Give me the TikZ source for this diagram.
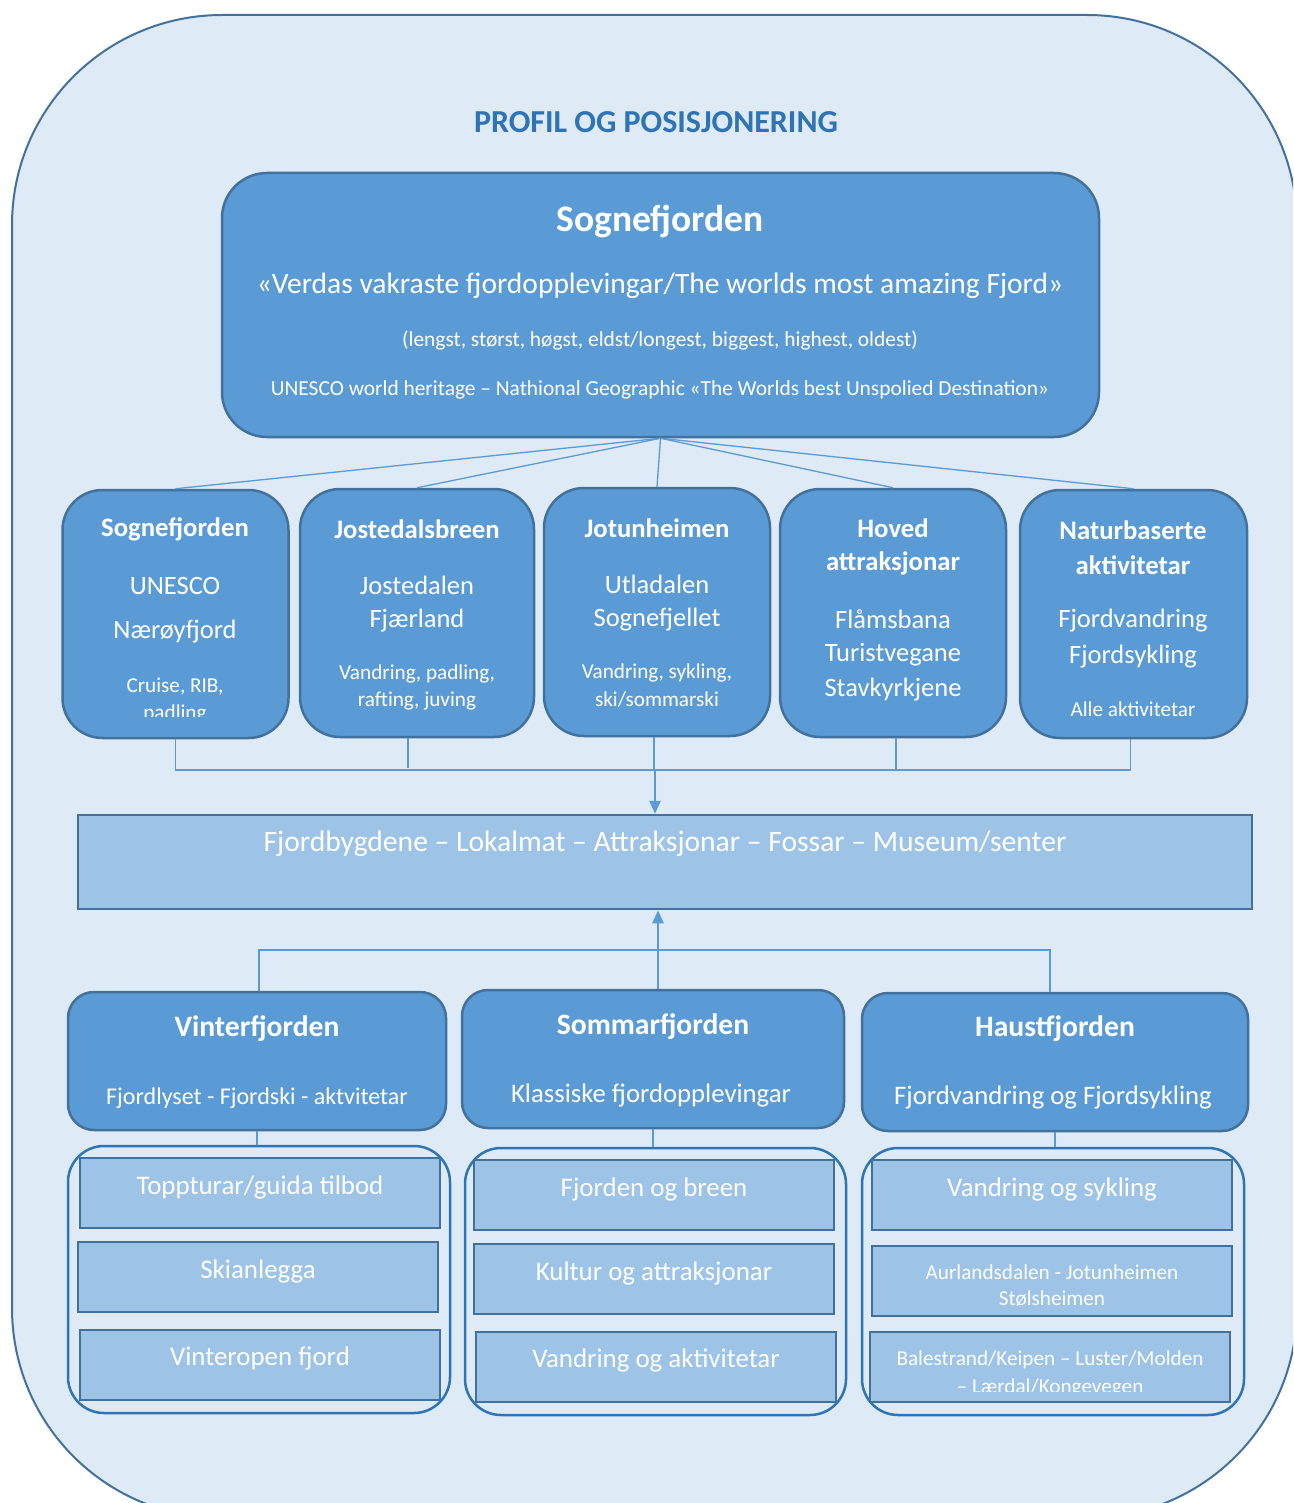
\documentclass[tikz,border=0pt]{standalone}
\usepackage{fontspec}
\setmainfont{Carlito}
\usetikzlibrary{arrows.meta}

\definecolor{bgblue}{HTML}{DEEAF6}
\definecolor{edgeblue}{HTML}{41719C}
\definecolor{boxblue}{HTML}{5B9BD5}
\definecolor{paleblue}{HTML}{9DC3E6}
\definecolor{titleblue}{HTML}{2E74B5}
\definecolor{ringblue}{HTML}{2E75B6}

\newcommand{\fsz}[1]{\fontsize{#1}{#1}\selectfont}

\tikzset{
  link/.style={draw=boxblue, line width=1.3pt},
  flow/.style={draw=boxblue, line width=2.5pt, -{Triangle[length=13pt,width=11pt]}},
  txt/.style={text=white, inner sep=0pt, align=center},
  headbox/.style={draw=edgeblue, fill=boxblue, line width=2.5pt, rounded corners=45pt},
  topicbox/.style={draw=edgeblue, fill=boxblue, line width=2.5pt, rounded corners=40pt,
    minimum width=226pt, minimum height=248pt, inner sep=0pt},
  seasonbox/.style={draw=edgeblue, fill=boxblue, line width=2.5pt, rounded corners=26pt,
    minimum height=138pt, inner sep=0pt},
  ring/.style={draw=ringblue, line width=2.5pt, rounded corners=36pt,
    minimum width=382pt, minimum height=267pt, inner sep=0pt},
  offer/.style={draw=edgeblue, fill=paleblue, line width=2.5pt,
    minimum width=360pt, minimum height=70pt, inner sep=0pt},
}

\begin{document}
\begin{tikzpicture}[x=1pt,y=-1pt]
  \useasboundingbox (0,0) rectangle (1293,1503);
  \clip (0,0) rectangle (1293,1503);
  % background frame
  \draw[fill=bgblue, draw=edgeblue, line width=2pt, rounded corners=210pt]
    (12,15) rectangle (1297,1518);

  \node[text=titleblue, inner sep=0pt] (title) at (656,122)
    {\fsz{32}\bfseries PROFIL OG POSISJONERING};

  % main box
  \node[headbox, minimum width=877pt, minimum height=264pt] (top) at (660.5,305) {};
  \node[txt] (t0) at (660,221) {\fsz{37.5}\bfseries Sognefjorden};
  \node[txt] (t1) at (660,286) {\fsz{29.5}«Verdas vakraste fjordopplevingar/The worlds most amazing Fjord»};
  \node[txt] (t2) at (660,341) {\fsz{21.4}(lengst, størst, høgst, eldst/longest, biggest, highest, oldest)};
  \node[txt] (t3) at (660,390) {\fsz{21.4}UNESCO world heritage – Nathional Geographic «The Worlds best Unspolied Destination»};

  % five themes
  \node[topicbox] (b1) at (175.5,614) {};
  \node[topicbox, minimum width=234pt] (b2) at (417,613) {};
  \node[topicbox] (b3) at (657,612) {};
  \node[topicbox] (b4) at (893,613) {};
  \node[topicbox, minimum width=227pt] (b5) at (1133.5,614) {};

  \node[txt] (b1a) at (175,529) {\fsz{26.7}\bfseries Sognefjorden};
  \node[txt] (b1b) at (175,586) {\fsz{26.5}UNESCO};
  \node[txt] (b1c) at (175,632) {\fsz{26.5}Nærøyfjord};
  \node[txt, anchor=base] (b1d) at (175,692) {\fsz{21.2}Cruise, RIB,};
  \begin{scope}
    \clip (70,698) rectangle (280,716);
    \node[txt, anchor=base] (b1e) at (175,719) {\fsz{21.2}padling};
  \end{scope}

  \node[txt] (b2a) at (417,529) {\fsz{26.7}\bfseries Jostedalsbreen};
  \node[txt] (b2b) at (417,585) {\fsz{26.5}Jostedalen};
  \node[txt] (b2c) at (417,621) {\fsz{26.5}Fjærland};
  \node[txt] (b2d) at (417,674) {\fsz{21.2}Vandring, padling,};
  \node[txt] (b2e) at (417,701) {\fsz{21.2}rafting, juving};

  \node[txt] (b3a) at (657,528) {\fsz{26.7}\bfseries Jotunheimen};
  \node[txt] (b3b) at (657,584) {\fsz{26.5}Utladalen};
  \node[txt] (b3c) at (657,620) {\fsz{26.5}Sognefjellet};
  \node[txt] (b3d) at (657,673) {\fsz{21.2}Vandring, sykling,};
  \node[txt] (b3e) at (657,700) {\fsz{21.2}ski/sommarski};

  \node[txt] (b4a) at (893,528) {\fsz{26.7}\bfseries Hoved};
  \node[txt] (b4b) at (893,563) {\fsz{26.7}\bfseries attraksjonar};
  \node[txt] (b4c) at (893,619) {\fsz{26.5}Flåmsbana};
  \node[txt] (b4d) at (893,655) {\fsz{26.5}Turistvegane};
  \node[txt] (b4e) at (893,690) {\fsz{26.5}Stavkyrkjene};

  \node[txt] (b5a) at (1133,530) {\fsz{26.7}\bfseries Naturbaserte};
  \node[txt] (b5b) at (1133,565) {\fsz{26.7}\bfseries aktivitetar};
  \node[txt] (b5c) at (1133,621) {\fsz{26.5}Fjordvandring};
  \node[txt] (b5d) at (1133,657) {\fsz{26.5}Fjordsykling};
  \node[txt] (b5e) at (1133,709) {\fsz{21.2}Alle aktivitetar};

  \foreach \b in {b1,b2,b3,b4,b5}
    \draw[link] (top.south) -- (\b.north);

  % common layer
  \node[draw=edgeblue, fill=paleblue, line width=2.5pt, minimum width=1174pt,
    minimum height=94pt, inner sep=0pt] (hub) at (665,862) {};
  \node[txt] (hubt) at (665,844) {\fsz{29.6}Fjordbygdene – Lokalmat – Attraksjonar – Fossar – Museum/senter};

  \coordinate (join) at (655,770);
  \draw[link] (b1.south) |- (join) -| ([xshift=-3pt]b5.south);
  \draw[link] ([xshift=-9pt]b2.south) -- ++(0,30);
  \draw[link] ([xshift=-3pt]b3.south) -- ++(0,32);
  \draw[link] ([xshift=3pt]b4.south) -- ++(0,33);
  \draw[flow] (join) -- (join |- hub.north);

  % seasons
  \node[seasonbox, minimum width=378pt] (s1) at (257,1061) {};
  \node[seasonbox, minimum width=382pt] (s2) at (653,1059) {};
  \node[seasonbox, minimum width=386pt] (s3) at (1055,1062) {};
  \node[txt] (s1a) at (257,1029) {\fsz{29.6}\bfseries Vinterfjorden};
  \node[txt] (s1b) at (257,1098) {\fsz{24}Fjordlyset - Fjordski - aktvitetar};
  \node[txt] (s2a) at (653,1027) {\fsz{29.6}\bfseries Sommarfjorden};
  \node[txt] (s2b) at (651,1096) {\fsz{26.7}Klassiske fjordopplevingar};
  \node[txt] (s3a) at (1055,1029) {\fsz{29.6}\bfseries Haustfjorden};
  \node[txt] (s3b) at (1053,1098) {\fsz{26.7}Fjordvandring og Fjordsykling};

  \coordinate (split) at (658,950);
  \draw[link] ([xshift=2pt]s1.north) |- (split) -| ([xshift=-5pt]s3.north);
  \draw[link] (s2.north -| split) -- (split);
  \draw[flow] (split) -- (split |- hub.south);

  % offers
  \node[ring] (g1) at (259,1279.5) {};
  \node[ring, minimum width=381pt] (g2) at (655.5,1281.5) {};
  \node[ring] (g3) at (1053,1281.5) {};
  \foreach \s/\g in {s1/g1,s2/g2,s3/g3}
    \draw[link] (\s.south) -- (\s.south |- \g.north);

  \node[offer] (r11) at (260,1193) {};
  \node[offer] (r12) at (258,1277) {};
  \node[offer] (r13) at (260,1365) {};
  \node[offer] (r21) at (654,1195) {};
  \node[offer] (r22) at (654,1279) {};
  \node[offer] (r23) at (656,1367) {};
  \node[offer] (r31) at (1052,1195) {};
  \node[offer] (r32) at (1052,1281) {};
  \node[offer] (r33) at (1050,1367) {};

  \node[txt] (r11t) at (260,1187) {\fsz{26.9}Toppturar/guida tilbod};
  \node[txt] (r12t) at (258,1271) {\fsz{26.9}Skianlegga};
  \node[txt] (r13t) at (260,1358) {\fsz{26.9}Vinteropen fjord};
  \node[txt] (r21t) at (654,1189) {\fsz{26.9}Fjorden og breen};
  \node[txt] (r22t) at (654,1273) {\fsz{26.9}Kultur og attraksjonar};
  \node[txt] (r23t) at (656,1360) {\fsz{26.9}Vandring og aktivitetar};
  \node[txt] (r31t) at (1052,1189) {\fsz{26.9}Vandring og sykling};
  \node[txt] (r32a) at (1052,1272) {\fsz{21.2}Aurlandsdalen - Jotunheimen};
  \node[txt] (r32b) at (1052,1299) {\fsz{21.2}Stølsheimen};
  \node[txt, anchor=base] (r33a) at (1050,1365) {\fsz{21.2}Balestrand/Keipen – Luster/Molden};
  \begin{scope}
    \clip (880,1372) rectangle (1220,1391);
    \node[txt, anchor=base] (r33b) at (1050,1393) {\fsz{21.2}– Lærdal/Kongevegen};
  \end{scope}
\end{tikzpicture}
\end{document}
